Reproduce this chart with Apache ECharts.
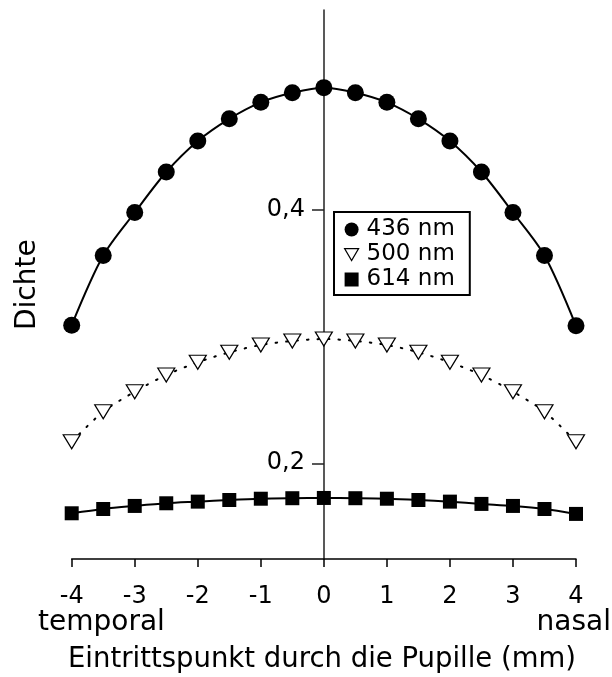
<!DOCTYPE html>
<html>
<head>
<meta charset="utf-8">
<script src="https://cdn.jsdelivr.net/npm/echarts@6/dist/echarts.min.js"></script>
<style>
html,body{margin:0;padding:0;background:#fff;}
#chart{width:612px;height:677px;}
</style>
</head>
<body>
<div id="chart"></div>
<script>
// Data
const positions = [-4, -3.5, -3, -2.5, -2, -1.5, -1, -0.5, 0, 0.5, 1, 1.5, 2, 2.5, 3, 3.5, 4];
const d436 = [0.309, 0.364, 0.398, 0.430, 0.4545, 0.472, 0.485, 0.4925, 0.4966, 0.4926, 0.485, 0.472, 0.4545, 0.430, 0.398, 0.364, 0.3085];
const d500 = [0.217, 0.2407, 0.2565, 0.2697, 0.2797, 0.2876, 0.2934, 0.2966, 0.2981, 0.2966, 0.2934, 0.2876, 0.2797, 0.2697, 0.2565, 0.2407, 0.217];
const d614 = [0.1605, 0.1639, 0.1663, 0.1684, 0.1697, 0.1710, 0.1720, 0.1724, 0.1726, 0.1724, 0.1720, 0.1710, 0.1697, 0.1679, 0.1663, 0.1639, 0.1600];
const seriesNames = ['436 nm', '500 nm', '614 nm'];
const yTickValues = [0.2, 0.4];
const xTitle = 'Eintrittspunkt durch die Pupille (mm)';
const yTitle = 'Dichte';
const leftLabel = 'temporal';
const rightLabel = 'nasal';

const FONT = 'DejaVu Sans';
const pairs = arr => positions.map((x, i) => [x, arr[i]]);
const downTri = 'path://M0,0L10,0L5,8.5Z';

const chart = echarts.init(document.getElementById('chart'), null, {renderer: 'canvas'});
chart.setOption({
  animation: false,
  backgroundColor: '#fff',
  textStyle: {fontFamily: FONT, color: '#000'},
  grid: {left: 71.7, right: 36, top: 10, bottom: 118, containLabel: false},
  xAxis: {
    type: 'value', min: -4, max: 4, interval: 1,
    axisLine: {onZero: false, lineStyle: {color: '#000', width: 1.5}},
    axisTick: {inside: false, length: 8, lineStyle: {color: '#000', width: 1.5}},
    axisLabel: {fontFamily: FONT, fontSize: 24, color: '#000', margin: 26},
    splitLine: {show: false}
  },
  yAxis: {
    type: 'value', min: 0.1244, max: 0.5579,
    position: 'left', offset: -252.3,
    axisLine: {show: true, onZero: false, lineStyle: {color: '#222', width: 1.5}},
    axisTick: {show: true, length: 12, customValues: yTickValues, lineStyle: {color: '#222', width: 1.5}},
    axisLabel: {fontFamily: FONT, fontSize: 24, color: '#000', margin: 19,
      customValues: yTickValues,
      formatter: v => v.toFixed(1).replace('.', ',')},
    splitLine: {show: false}
  },
  legend: {
    orient: 'vertical', left: 334, top: 212,
    padding: [6, 15, 4, 10],
    borderColor: '#000', borderWidth: 2,
    itemWidth: 14, itemHeight: 14, itemGap: 2,
    textStyle: {fontFamily: FONT, fontSize: 23, color: '#000', padding: [0, 0, 0, 3]},
    data: [
      {name: seriesNames[0], icon: 'circle', itemStyle: {color: '#000', borderWidth: 0}},
      {name: seriesNames[1], icon: downTri, itemStyle: {color: '#fff', borderColor: '#000', borderWidth: 1.2}},
      {name: seriesNames[2], icon: 'rect', itemStyle: {color: '#000', borderWidth: 0}}
    ]
  },
  graphic: [
    {type: 'text', left: 38, top: 609, style: {text: leftLabel, font: '28px "DejaVu Sans"', fill: '#000'}},
    {type: 'text', right: 1, top: 609, style: {text: rightLabel, font: '28px "DejaVu Sans"', fill: '#000'}},
    {type: 'text', x: 322, y: 660, style: {text: xTitle, font: '27.5px "DejaVu Sans"', fill: '#000', align: 'center', verticalAlign: 'middle'}},
    {type: 'text', x: 14, y: 330, rotation: Math.PI / 2, style: {text: yTitle, font: '28px "DejaVu Sans"', fill: '#000'}}
  ],
  series: [
    {
      name: seriesNames[0], type: 'line', data: pairs(d436), smooth: 0.3,
      symbol: 'circle', symbolSize: 17,
      lineStyle: {color: '#000', width: 2},
      itemStyle: {color: '#000'}
    },
    {
      name: seriesNames[1], type: 'line', data: pairs(d500), smooth: 0.3,
      symbol: downTri, symbolSize: [17, 14],
      lineStyle: {color: '#000', width: 2, type: [1.5, 9], cap: 'round'},
      itemStyle: {color: '#fff', borderColor: '#000', borderWidth: 1.2}
    },
    {
      name: seriesNames[2], type: 'line', data: pairs(d614), smooth: 0.3,
      symbol: 'rect', symbolSize: 14,
      lineStyle: {color: '#000', width: 2},
      itemStyle: {color: '#000'}
    }
  ]
});
</script>
</body>
</html>
